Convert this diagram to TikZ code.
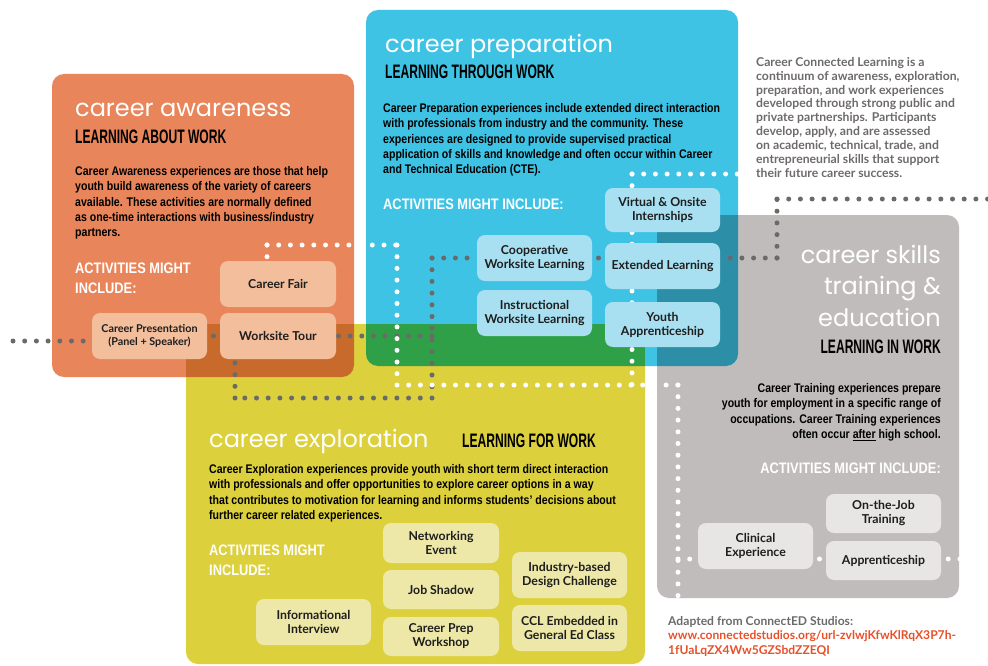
\documentclass[tikz,border=0pt]{standalone}
\usepackage{fontspec}
\setmainfont{Liberation Sans}
\newfontfamily\titlef{Poppins}
\newfontfamily\condf[FakeStretch=0.62]{Liberation Sans}
\newfontfamily\narrowf[FakeStretch=0.845]{Liberation Sans}
\newfontfamily\boxf{Lato}
\usetikzlibrary{calc}
\definecolor{cOrange}{HTML}{E9855A}
\definecolor{cDOrange}{HTML}{C76A2B}
\definecolor{cBlue}{HTML}{3FC3E5}
\definecolor{cGreen}{HTML}{2FA047}
\definecolor{cGray}{HTML}{C0BCBB}
\definecolor{cTeal}{HTML}{2D8EA7}
\definecolor{cYellow}{HTML}{DCD03D}
\definecolor{lOrange}{HTML}{F2BE9C}
\definecolor{lBlue}{HTML}{A8E0F2}
\definecolor{lGray}{HTML}{E7E6E5}
\definecolor{lYellow}{HTML}{EEE8A8}
\definecolor{cDot}{HTML}{6A6A6A}
\definecolor{cNote}{HTML}{6E6A6A}
\definecolor{cUrl}{HTML}{E8502A}
\definecolor{cInk}{HTML}{1E1E1E}
\pgfdeclarelayer{bg}
\pgfdeclarelayer{dots}
\pgfsetlayers{bg,dots,main}
\tikzset{
  bigbox/.style={rounded corners=12pt},
  act/.style={rounded corners=8pt, minimum width=115pt, minimum height=46pt, align=center, inner sep=1pt, text=cInk, font=\boxf\bfseries\fontsize{12.3}{14}\selectfont},
  ttl/.style={inner sep=0pt, text=white, font=\titlef\fontsize{24}{31.5}\selectfont},
  subttl/.style={inner sep=0pt, text=black, font=\condf\bfseries\fontsize{19.5}{22}\selectfont},
  body/.style={inner sep=0pt, text=black, font=\narrowf\bfseries\fontsize{12.5}{15.4}\selectfont},
  acthead/.style={inner sep=0pt, text=white, font=\narrowf\bfseries\fontsize{15.2}{19.5}\selectfont},
  note/.style={inner sep=0pt, align=left, text=cNote, font=\boxf\bfseries\fontsize{12.2}{13.9}\selectfont},
  gdots/.style={draw=cDot, line width=5pt, line cap=round, dash pattern=on 0pt off 11.7pt},
  wdots/.style={draw=white, line width=5pt, line cap=round, dash pattern=on 0pt off 11.7pt},
  gdot/.style={circle, fill=cDot, inner sep=0pt, minimum size=5pt},
  wdot/.style={circle, fill=white, inner sep=0pt, minimum size=5pt},
}
\begin{document}
\begin{tikzpicture}[x=1pt,y=-1pt]
\useasboundingbox (0,0) rectangle (988,666);
% ---------- big panels ----------
\begin{pgfonlayer}{bg}
\fill[white] (0,0) rectangle (988,666);
\fill[cOrange, bigbox] (52,74) rectangle (354,377);
\fill[cBlue, bigbox] (366,10) rectangle (738,366);
\fill[cGray, bigbox] (657,215) rectangle (959,598);
\fill[cYellow, bigbox] (186,324) rectangle (645,664);
\begin{scope}
\clip[bigbox] (52,74) rectangle (354,377);
\fill[cDOrange, bigbox] (186,324) rectangle (645,664);
\end{scope}
\begin{scope}
\clip[bigbox] (366,10) rectangle (738,366);
\fill[cGreen, bigbox] (186,324) rectangle (645,664);
\end{scope}
\begin{scope}
\clip[bigbox] (366,10) rectangle (738,366);
\fill[cTeal, bigbox] (657,215) rectangle (959,598);
\end{scope}
\end{pgfonlayer}

% ---------- career awareness ----------
\node[ttl, anchor=base west] (awT) at (75,117) {career awareness};
\node[subttl, anchor=base west] (awS) at (75,143) {LEARNING ABOUT WORK};
\node[body, align=left, anchor=north west] (awB) at (75,166) {Career Awareness experiences are those that help\\youth build awareness of the variety of careers\\available. These activities are normally defined\\as one-time interactions with business/industry\\partners.};
\node[acthead, align=left, anchor=north west] (awA) at (75,263) {ACTIVITIES MIGHT\\INCLUDE:};
\node[act, fill=lOrange, minimum width=116pt] (Fair) at (278,284) {Career Fair};
\node[act, fill=lOrange, font=\boxf\bfseries\fontsize{10.8}{13}\selectfont] (CarPres) at (149.5,336) {Career Presentation\\(Panel + Speaker)};
\node[act, fill=lOrange, minimum width=116pt] (Worksite) at (278,336) {Worksite Tour};

% ---------- career preparation ----------
\node[ttl, anchor=base west] (prT) at (385,53) {career preparation};
\node[subttl, anchor=base west] (prS) at (385,79) {LEARNING THROUGH WORK};
\node[body, align=left, anchor=north west] (prB) at (383,103) {Career Preparation experiences include extended direct interaction\\with professionals from industry and the community. These\\experiences are designed to provide supervised practical\\application of skills and knowledge and often occur within Career\\and Technical Education (CTE).};
\node[acthead, anchor=north west] (prA) at (383,199) {ACTIVITIES MIGHT INCLUDE:};
\node[act, fill=lBlue, minimum height=44pt] (Virtual) at (662.5,210) {Virtual \& Onsite\\Internships};
\node[act, fill=lBlue] (ExtL) at (662.5,266) {Extended Learning};
\node[act, fill=lBlue, minimum height=45pt] (Youth) at (662.5,324.5) {Youth\\Apprenticeship};
\node[act, fill=lBlue] (Coop) at (534.5,258) {Cooperative\\Worksite Learning};
\node[act, fill=lBlue] (Instr) at (534.5,313) {Instructional\\Worksite Learning};

% ---------- career skills ----------
\node[ttl, align=right, anchor=north east] (skT) at (941,245) {career skills\\training \&\\education};
\node[subttl, anchor=base east] (skS) at (941,353) {LEARNING IN WORK};
\node[body, align=right, anchor=north east] (skB) at (941,383) {Career Training experiences prepare\\youth for employment in a specific range of\\occupations. Career Training experiences\\often occur \underline{after} high school.};
\node[acthead, anchor=north east] (skA) at (941,463) {ACTIVITIES MIGHT INCLUDE:};
\node[act, fill=lGray, minimum height=39pt] (OJT) at (883.5,513.5) {On-the-Job\\Training};
\node[act, fill=lGray, minimum height=39pt] (Appr) at (883.5,560.5) {Apprenticeship};
\node[act, fill=lGray] (Clin) at (755.5,546) {Clinical\\Experience};

% ---------- career exploration ----------
\node[ttl, anchor=base west] (exT) at (209,447) {career exploration};
\node[subttl, anchor=base west] (exS) at (462,447) {LEARNING FOR WORK};
\node[body, align=left, anchor=north west] (exB) at (209,464) {Career Exploration experiences provide youth with short term direct interaction\\with professionals and offer opportunities to explore career options in a way\\that contributes to motivation for learning and informs students’ decisions about\\further career related experiences.};
\node[acthead, align=left, anchor=north west] (exA) at (209,545) {ACTIVITIES MIGHT\\INCLUDE:};
\node[act, fill=lYellow, minimum width=116pt, minimum height=40pt] (Net) at (441,543) {Networking\\Event};
\node[act, fill=lYellow, minimum width=116pt, minimum height=39pt] (Shadow) at (441,589.5) {Job Shadow};
\node[act, fill=lYellow, minimum width=116pt, minimum height=39pt] (Prep) at (441,636.5) {Career Prep\\Workshop};
\node[act, fill=lYellow] (Ind) at (569.5,575) {Industry-based\\Design Challenge};
\node[act, fill=lYellow] (CCL) at (569.5,628) {CCL Embedded in\\General Ed Class};
\node[act, fill=lYellow] (Info) at (313.5,622) {Informational\\Interview};

% ---------- side note and source ----------
\node[note, anchor=north west] (note) at (756,57) {Career Connected Learning is a\\continuum of awareness, exploration,\\preparation, and work experiences\\developed through strong public and\\private partnerships. Participants\\develop, apply, and are assessed\\on academic, technical, trade, and\\entrepreneurial skills that support\\their future career success.};
\node[note, anchor=north west, font=\boxf\bfseries\fontsize{12.1}{14.8}\selectfont] (src) at (668,616) {Adapted from ConnectED Studios:\\\textcolor{cUrl}{www.connectedstudios.org/url-zvlwjKfwKlRqX3P7h-}\\\textcolor{cUrl}{1fUaLqZX4Ww5GZSbdZZEQI}};

% ---------- dotted connectors ----------
\coordinate (gL) at (13,341);
\coordinate (c1) at (432,258);
\coordinate (c2) at (432,398);
\coordinate (c3) at (235,398);
\coordinate (c4) at (777,258);
\coordinate (c5) at (777,199);
\coordinate (c6) at (995,199);
\coordinate (c7) at (267,245);
\coordinate (c8) at (397,245);
\coordinate (c9) at (397,385);
\coordinate (c10) at (678,385);
\coordinate (c11) at (678,598);
\coordinate (c12) at (632,174);
\coordinate (c13) at (740,174);
\coordinate (c14) at (678,559);
\coordinate (c15) at (995,559);
\begin{pgfonlayer}{dots}
% gray
\draw[gdots] (gL) -- (gL -| CarPres.west);
\path (CarPres.east) -- node[gdot]{} (Worksite.west);
\draw[gdots] (c1 |- Worksite.east) -- (Worksite.east);
\draw[gdots] (c1) -- (Coop.west |- c1);
\draw[gdots] (c1) -- (c2);
\draw[gdots] (c2) -- (c3);
\draw[gdots] (c3) -- (c3 |- Worksite.south);
\path (Coop.east |- c1) -- node[gdot]{} (ExtL.west |- c1);
\draw[gdots] (c4) -- (c4 -| ExtL.east);
\draw[gdots] (c4) -- (c5);
\draw[gdots] (c5) -- (c6);
% white
\draw[wdots] (c7) -- (c7 |- Fair.north);
\draw[wdots] (c7) -- (c8);
\draw[wdots] (c8) -- (c9);
\draw[wdots] (c9) -- (c10);
\draw[wdots] (c10) -- (c11);
\draw[wdots] (c12) -- (c13);
\draw[wdots] (c12) -- (c12 |- c9);
\draw[wdots] (c14) -- (c14 -| Clin.west);
\path (Clin.east |- c14) -- node[wdot]{} (Appr.west |- c14);
\draw[wdots] (c15) -- (c15 -| Appr.east);
\end{pgfonlayer}
\end{tikzpicture}
\end{document}
